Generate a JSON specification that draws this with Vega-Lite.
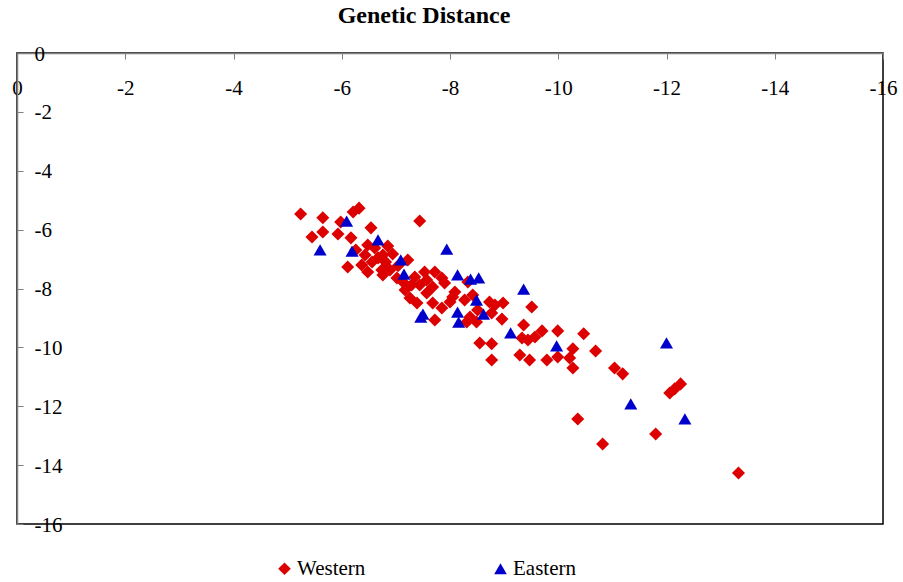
{
  "$schema": "https://vega.github.io/schema/vega-lite/v6.json",
  "autosize": {"type": "none"},
  "padding": {"left": 17, "top": 53, "right": 20, "bottom": 58},
  "width": 866,
  "height": 471,
  "background": "white",
  "title": {
    "text": "Genetic Distance",
    "font": "Liberation Serif",
    "fontSize": 24,
    "fontWeight": "bold",
    "color": "black",
    "anchor": "middle",
    "dx": -26,
    "offset": 15
  },
  "data": {
    "values": [
      {"region": "Western", "x": -5.24, "y": -5.47},
      {"region": "Western", "x": -5.65, "y": -5.60},
      {"region": "Western", "x": -5.45, "y": -6.25},
      {"region": "Western", "x": -5.65, "y": -6.08},
      {"region": "Western", "x": -5.93, "y": -6.15},
      {"region": "Western", "x": -5.98, "y": -5.74},
      {"region": "Western", "x": -6.21, "y": -5.40},
      {"region": "Western", "x": -6.32, "y": -5.27},
      {"region": "Western", "x": -6.17, "y": -6.28},
      {"region": "Western", "x": -6.11, "y": -7.27},
      {"region": "Western", "x": -6.54, "y": -5.94},
      {"region": "Western", "x": -6.48, "y": -6.52},
      {"region": "Western", "x": -6.61, "y": -6.62},
      {"region": "Western", "x": -6.43, "y": -6.86},
      {"region": "Western", "x": -6.56, "y": -7.10},
      {"region": "Western", "x": -6.67, "y": -6.96},
      {"region": "Western", "x": -6.37, "y": -7.20},
      {"region": "Western", "x": -6.76, "y": -6.86},
      {"region": "Western", "x": -6.74, "y": -7.37},
      {"region": "Western", "x": -6.48, "y": -7.44},
      {"region": "Western", "x": -6.76, "y": -7.54},
      {"region": "Western", "x": -7.44, "y": -5.71},
      {"region": "Western", "x": -6.81, "y": -7.10},
      {"region": "Western", "x": -6.94, "y": -6.83},
      {"region": "Western", "x": -7.22, "y": -7.03},
      {"region": "Western", "x": -6.89, "y": -7.37},
      {"region": "Western", "x": -7.02, "y": -7.64},
      {"region": "Western", "x": -7.53, "y": -7.44},
      {"region": "Western", "x": -7.35, "y": -7.61},
      {"region": "Western", "x": -7.29, "y": -7.88},
      {"region": "Western", "x": -7.44, "y": -7.88},
      {"region": "Western", "x": -7.57, "y": -7.71},
      {"region": "Western", "x": -7.72, "y": -7.44},
      {"region": "Western", "x": -7.85, "y": -7.64},
      {"region": "Western", "x": -7.90, "y": -7.81},
      {"region": "Western", "x": -7.68, "y": -7.95},
      {"region": "Western", "x": -7.17, "y": -8.05},
      {"region": "Western", "x": -7.26, "y": -8.32},
      {"region": "Western", "x": -7.39, "y": -8.49},
      {"region": "Western", "x": -7.57, "y": -8.15},
      {"region": "Western", "x": -7.68, "y": -8.49},
      {"region": "Western", "x": -7.85, "y": -8.66},
      {"region": "Western", "x": -8.05, "y": -8.29},
      {"region": "Western", "x": -8.09, "y": -8.12},
      {"region": "Western", "x": -8.00, "y": -8.46},
      {"region": "Western", "x": -7.72, "y": -9.07},
      {"region": "Western", "x": -8.27, "y": -8.39},
      {"region": "Western", "x": -8.37, "y": -8.97},
      {"region": "Western", "x": -8.33, "y": -7.78},
      {"region": "Western", "x": -8.42, "y": -8.22},
      {"region": "Western", "x": -8.51, "y": -8.73},
      {"region": "Western", "x": -8.31, "y": -9.14},
      {"region": "Western", "x": -8.49, "y": -9.14},
      {"region": "Western", "x": -8.73, "y": -8.46},
      {"region": "Western", "x": -8.83, "y": -8.56},
      {"region": "Western", "x": -8.98, "y": -8.49},
      {"region": "Western", "x": -8.77, "y": -8.83},
      {"region": "Western", "x": -8.96, "y": -9.04},
      {"region": "Western", "x": -9.51, "y": -8.63},
      {"region": "Western", "x": -9.36, "y": -9.24},
      {"region": "Western", "x": -8.55, "y": -9.85},
      {"region": "Western", "x": -8.77, "y": -9.88},
      {"region": "Western", "x": -8.77, "y": -10.43},
      {"region": "Western", "x": -9.33, "y": -9.68},
      {"region": "Western", "x": -9.44, "y": -9.75},
      {"region": "Western", "x": -9.57, "y": -9.65},
      {"region": "Western", "x": -9.70, "y": -9.44},
      {"region": "Western", "x": -9.99, "y": -9.44},
      {"region": "Western", "x": -9.29, "y": -10.26},
      {"region": "Western", "x": -9.47, "y": -10.43},
      {"region": "Western", "x": -9.79, "y": -10.43},
      {"region": "Western", "x": -9.99, "y": -10.33},
      {"region": "Western", "x": -10.47, "y": -9.54},
      {"region": "Western", "x": -10.27, "y": -10.05},
      {"region": "Western", "x": -10.21, "y": -10.36},
      {"region": "Western", "x": -10.27, "y": -10.70},
      {"region": "Western", "x": -10.69, "y": -10.12},
      {"region": "Western", "x": -11.04, "y": -10.70},
      {"region": "Western", "x": -11.19, "y": -10.90},
      {"region": "Western", "x": -12.06, "y": -11.55},
      {"region": "Western", "x": -12.15, "y": -11.41},
      {"region": "Western", "x": -12.26, "y": -11.24},
      {"region": "Western", "x": -10.36, "y": -12.43},
      {"region": "Western", "x": -10.82, "y": -13.28},
      {"region": "Western", "x": -11.80, "y": -12.94},
      {"region": "Western", "x": -13.33, "y": -14.27},
      {"region": "Western", "x": -6.26, "y": -6.69},
      {"region": "Western", "x": -6.85, "y": -6.56},
      {"region": "Western", "x": -7.04, "y": -7.23},
      {"region": "Western", "x": -7.15, "y": -7.81},
      {"region": "Eastern", "x": -5.60, "y": -6.69},
      {"region": "Eastern", "x": -6.09, "y": -5.71},
      {"region": "Eastern", "x": -6.19, "y": -6.73},
      {"region": "Eastern", "x": -6.67, "y": -6.35},
      {"region": "Eastern", "x": -7.09, "y": -7.03},
      {"region": "Eastern", "x": -7.15, "y": -7.51},
      {"region": "Eastern", "x": -7.50, "y": -8.87},
      {"region": "Eastern", "x": -7.46, "y": -8.97},
      {"region": "Eastern", "x": -7.94, "y": -6.66},
      {"region": "Eastern", "x": -8.14, "y": -7.54},
      {"region": "Eastern", "x": -8.38, "y": -7.68},
      {"region": "Eastern", "x": -8.53, "y": -7.64},
      {"region": "Eastern", "x": -8.49, "y": -8.39},
      {"region": "Eastern", "x": -8.14, "y": -8.80},
      {"region": "Eastern", "x": -8.16, "y": -9.14},
      {"region": "Eastern", "x": -8.62, "y": -8.87},
      {"region": "Eastern", "x": -9.36, "y": -8.02},
      {"region": "Eastern", "x": -9.12, "y": -9.51},
      {"region": "Eastern", "x": -9.97, "y": -9.95},
      {"region": "Eastern", "x": -12.00, "y": -9.85},
      {"region": "Eastern", "x": -11.34, "y": -11.92},
      {"region": "Eastern", "x": -12.34, "y": -12.43}
    ]
  },
  "mark": {"type": "point", "filled": true, "opacity": 1, "size": 170, "strokeWidth": 0},
  "encoding": {
    "x": {
      "field": "x",
      "type": "quantitative",
      "scale": {"domain": [-16, 0], "reverse": true, "nice": false, "zero": false},
      "axis": {
        "title": null,
        "orient": "bottom",
        "offset": -471,
        "values": [0, -2, -4, -6, -8, -10, -12, -14, -16],
        "labelExpr": "'' + datum.value",
        "grid": false,
        "domainColor": "#808080",
        "domainWidth": 1.5,
        "tickColor": "#808080",
        "tickSize": 6,
        "labelPadding": 18,
        "labelFont": "Liberation Serif",
        "labelFontSize": 21,
        "labelColor": "black",
        "labelOverlap": false,
        "labelFlush": false,
        "labelBound": false
      }
    },
    "y": {
      "field": "y",
      "type": "quantitative",
      "scale": {"domain": [-16, 0], "nice": false, "zero": false},
      "axis": {
        "title": null,
        "orient": "right",
        "offset": -866,
        "values": [0, -2, -4, -6, -8, -10, -12, -14, -16],
        "labelExpr": "'' + datum.value",
        "grid": false,
        "domainColor": "#808080",
        "domainWidth": 1.5,
        "tickColor": "#808080",
        "tickSize": 6,
        "labelPadding": 11,
        "labelOffset": 1,
        "labelFont": "Liberation Serif",
        "labelFontSize": 21,
        "labelColor": "black",
        "labelOverlap": false,
        "labelFlush": false,
        "labelBound": false
      }
    },
    "color": {
      "field": "region",
      "type": "nominal",
      "scale": {"domain": ["Western", "Eastern"], "range": ["#dc0000", "#0000cc"]},
      "legend": {
        "title": null,
        "orient": "none",
        "direction": "horizontal",
        "legendX": 257,
        "legendY": 505,
        "columnPadding": 124,
        "labelFont": "Liberation Serif",
        "labelFontSize": 21,
        "labelColor": "black",
        "labelOffset": 2,
        "symbolSize": 160,
        "symbolStrokeWidth": 0,
        "symbolOpacity": 1
      }
    },
    "shape": {
      "field": "region",
      "type": "nominal",
      "scale": {"domain": ["Western", "Eastern"], "range": ["diamond", "triangle-up"]},
      "legend": null
    }
  },
  "config": {
    "view": {"stroke": "black", "strokeWidth": 1.5}
  }
}
